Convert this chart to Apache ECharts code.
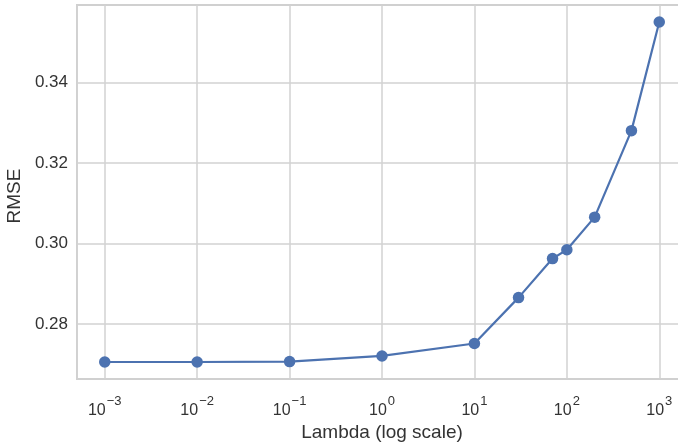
<!DOCTYPE html>
<html>
<head>
<meta charset="utf-8">
<title>RMSE vs Lambda</title>
<script src="https://cdn.jsdelivr.net/npm/echarts@6/dist/echarts.min.js"></script>
<style>
  html, body { margin: 0; padding: 0; background: #ffffff; }
  #chart { width: 678px; height: 448px; }
</style>
</head>
<body>
<div id="chart"></div>
<script>
// Regularisation strength and the validation error measured at each value
const lambdas = [0.001, 0.01, 0.1, 1, 10, 30, 70, 100, 200, 500, 1000];
const rmse = [0.2706, 0.2706, 0.2707, 0.2721, 0.2752, 0.2866, 0.2963, 0.2985, 0.3066, 0.3281, 0.3551];
const yTickStep = 0.02;

const FONT = '"Liberation Sans", Arial, sans-serif';
const TEXT = '#333333';
const GRID = '#d2d2d2';

// 5% padding on both axes (in log space for x)
const lx = lambdas.map(Math.log10);
const lxMin = Math.min(...lx), lxMax = Math.max(...lx);
const lxPad = (lxMax - lxMin) * 0.05;
const yMin = Math.min(...rmse), yMax = Math.max(...rmse);
const yPad = (yMax - yMin) * 0.05;

const chart = echarts.init(document.getElementById('chart'), null, { renderer: 'canvas' });

chart.setOption({
  animation: false,
  backgroundColor: '#ffffff',
  textStyle: { fontFamily: FONT, color: TEXT },
  grid: {
    left: 77, top: 5, right: -9, bottom: 69,
    show: true, borderColor: '#cccccc', borderWidth: 1.8,
    backgroundColor: '#ffffff', containLabel: false,
    outerBoundsMode: 'none'
  },
  xAxis: {
    type: 'log',
    logBase: 10,
    min: Math.pow(10, lxMin - lxPad),
    max: Math.pow(10, lxMax + lxPad),
    name: 'Lambda (log scale)',
    nameLocation: 'middle',
    nameGap: 40,
    nameTextStyle: { fontFamily: FONT, fontSize: 19, color: TEXT },
    axisLine: { show: false },
    axisTick: { show: false },
    splitLine: { show: true, lineStyle: { color: GRID, width: 1.5 } },
    axisLabel: {
      margin: 16,
      formatter: function (v) {
        const e = Math.log10(v);
        const r = Math.round(e);
        if (Math.abs(e - r) > 1e-6) return '';
        return '{b|10}{s|' + (r < 0 ? '\u2212' : '') + Math.abs(r) + '}';
      },
      rich: {
        b: { fontFamily: FONT, fontSize: 16, color: TEXT, lineHeight: 18, padding: [13, 0, 0, 0] },
        s: { fontFamily: FONT, fontSize: 13, color: TEXT, lineHeight: 14, verticalAlign: 'top', padding: [0, 0, 0, 1] }
      }
    }
  },
  yAxis: {
    type: 'value',
    min: yMin - yPad,
    max: yMax + yPad,
    name: 'RMSE',
    nameLocation: 'middle',
    nameGap: 48,
    nameTextStyle: { fontFamily: FONT, fontSize: 19, color: TEXT, padding: [0, 8, 0, 0] },
    axisLine: { show: false },
    axisTick: { show: false },
    splitLine: { show: true, lineStyle: { color: GRID, width: 1.5 } },
    axisLabel: {
      margin: 9,
      fontFamily: FONT,
      fontSize: 17,
      color: TEXT,
      formatter: function (v) {
        const k = v / yTickStep;
        if (Math.abs(k - Math.round(k)) > 1e-6) return '';
        return v.toFixed(2);
      }
    }
  },
  series: [{
    type: 'line',
    data: lambdas.map((l, i) => [l, rmse[i]]),
    symbol: 'circle',
    symbolSize: 11.5,
    itemStyle: { color: '#4c72b0' },
    lineStyle: { color: '#4c72b0', width: 2.2 },
    z: 3
  }]
});
</script>
</body>
</html>
